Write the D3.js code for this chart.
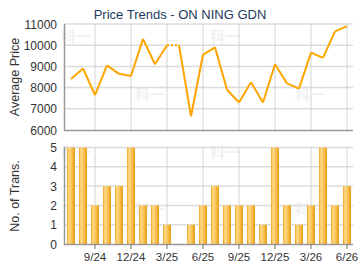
<!DOCTYPE html>
<html><head><meta charset="utf-8">
<script src="https://cdn.jsdelivr.net/npm/d3@7"></script>
<style>
html,body{margin:0;padding:0;background:#fff;}
svg{display:block;font-family:"Liberation Sans",Arial,sans-serif;}
</style></head>
<body>
<svg id="c" width="360" height="270"></svg>
<script>
const months = ["7/24","8/24","9/24","10/24","11/24","12/24","1/25","2/25","3/25","4/25","5/25","6/25",
  "7/25","8/25","9/25","10/25","11/25","12/25","1/26","2/26","3/26","4/26","5/26","6/26"];
const prices = [8400,8900,7650,9050,8650,8550,10300,9100,10000,10000,6650,9560,
  9900,7900,7300,8250,7300,9100,8200,7950,9650,9400,10650,10900];
const filled = ["4/25"];
const trans = [5,5,2,3,3,5,2,2,1,0,1,2,3,2,2,2,1,5,2,1,2,5,2,3];
const tickLabels = ["9/24","12/24","3/25","6/25","9/25","12/25","3/26","6/26"];
const priceTicks = [6000,7000,8000,9000,10000,11000];
const transTicks = [0,1,2,3,4,5];

const svg = d3.select("#c");
const defs = svg.append("defs");
const grad = defs.append("linearGradient").attr("id","bar").attr("x1","0").attr("x2","1").attr("y1","0").attr("y2","0");
[["0%","#f0a520"],["25%","#fddb8a"],["55%","#f9c65c"],["100%","#e99c12"]].forEach(s=>grad.append("stop").attr("offset",s[0]).attr("stop-color",s[1]));

const x = d3.scaleBand().domain(months).range([65,353]);
const cx = m => x(m) + x.bandwidth()/2;
const yP = d3.scaleLinear().domain([6000,11000]).range([130,24]);
const yT = d3.scaleLinear().domain([0,5]).range([244,147.5]);

// watermarks
const wm = [[76,42],[150,100],[225,42],[310,100],[76,158],[150,215],[225,158],[310,215]];
svg.append("g").selectAll("text").data(wm).join("text")
  .attr("x",d=>d[0]).attr("y",d=>d[1]).attr("text-anchor","middle")
  .attr("font-family","Noto Sans CJK SC").attr("font-size",15).attr("font-weight","bold")
  .attr("fill","#f1f1f1").text("科一");

// Title
svg.append("text").attr("x",180).attr("y",19).attr("text-anchor","middle")
  .attr("font-size",13).attr("fill","#1d3a5e").text("Price Trends - ON NING GDN");

// Top grid
const topG = svg.append("g");
topG.selectAll(".hg").data(priceTicks.filter(t=>t>6000)).join("line")
  .attr("x1",65).attr("x2",353).attr("y1",d=>yP(d)).attr("y2",d=>yP(d))
  .attr("stroke","#dcdcdc").attr("stroke-width",1.5);
topG.selectAll(".vg").data(tickLabels).join("line")
  .attr("x1",d=>cx(d)).attr("x2",d=>cx(d)).attr("y1",24).attr("y2",130)
  .attr("stroke","#d4d4d4").attr("stroke-width",1);
topG.append("line").attr("x1",64).attr("x2",353).attr("y1",130.5).attr("y2",130.5).attr("stroke","#999").attr("stroke-width",1.5);
topG.append("line").attr("x1",64.5).attr("x2",64.5).attr("y1",24).attr("y2",131).attr("stroke","#999").attr("stroke-width",1.5);
topG.selectAll(".yl").data(priceTicks).join("text")
  .attr("x",57).attr("y",d=>yP(d)+4.5).attr("text-anchor","end")
  .attr("font-size",12).attr("fill","#333").text(d=>d);
svg.append("text").attr("transform","translate(19,77) rotate(-90)").attr("text-anchor","middle")
  .attr("font-size",12.5).attr("fill","#333").text("Average Price");

// Price line
const pts = months.map((m,i)=>({m, v:prices[i]}));
const line = d3.line().x(d=>cx(d.m)).y(d=>yP(d.v));
for (let i=0;i<pts.length-1;i++){
  const dotted = filled.includes(pts[i+1].m);
  topG.append("path").attr("d",line([pts[i],pts[i+1]]))
    .attr("fill","none").attr("stroke","#ffa500").attr("stroke-width",2)
    .attr("stroke-linejoin","round")
    .attr("stroke-dasharray",dotted?"2,2":null);
}

// Bottom chart
const bot = svg.append("g");
bot.selectAll(".hg").data(transTicks.filter(t=>t>0)).join("line")
  .attr("x1",65).attr("x2",353).attr("y1",d=>yT(d)).attr("y2",d=>yT(d))
  .attr("stroke","#dcdcdc").attr("stroke-width",1.5);
bot.selectAll(".vg").data(tickLabels).join("line")
  .attr("x1",d=>cx(d)).attr("x2",d=>cx(d)).attr("y1",147).attr("y2",249)
  .attr("stroke","#d4d4d4").attr("stroke-width",1);
bot.selectAll(".bar").data(months.map((m,i)=>({m,v:trans[i]})).filter(d=>d.v>0)).join("rect")
  .attr("x",d=>cx(d.m)-4).attr("width",8)
  .attr("y",d=>yT(d.v)).attr("height",d=>yT(0)-yT(d.v))
  .attr("fill","url(#bar)");
bot.append("line").attr("x1",64).attr("x2",353).attr("y1",244.5).attr("y2",244.5).attr("stroke","#999").attr("stroke-width",1.5);
bot.append("line").attr("x1",64.5).attr("x2",64.5).attr("y1",147).attr("y2",245).attr("stroke","#999").attr("stroke-width",1.5);
bot.selectAll(".tk").data(tickLabels).join("line")
  .attr("x1",d=>cx(d)).attr("x2",d=>cx(d)).attr("y1",244).attr("y2",249)
  .attr("stroke","#888").attr("stroke-width",1);
bot.selectAll(".yl").data(transTicks).join("text")
  .attr("x",57).attr("y",d=>yT(d)+4.5).attr("text-anchor","end")
  .attr("font-size",12).attr("fill","#333").text(d=>d);
bot.selectAll(".xl").data(tickLabels).join("text")
  .attr("x",d=>cx(d)).attr("y",261).attr("text-anchor","middle")
  .attr("font-size",11.5).attr("fill","#333").text(d=>d);
svg.append("text").attr("transform","translate(19,196) rotate(-90)").attr("text-anchor","middle")
  .attr("font-size",12.5).attr("fill","#333").text("No. of Trans.");
</script>
</body></html>
